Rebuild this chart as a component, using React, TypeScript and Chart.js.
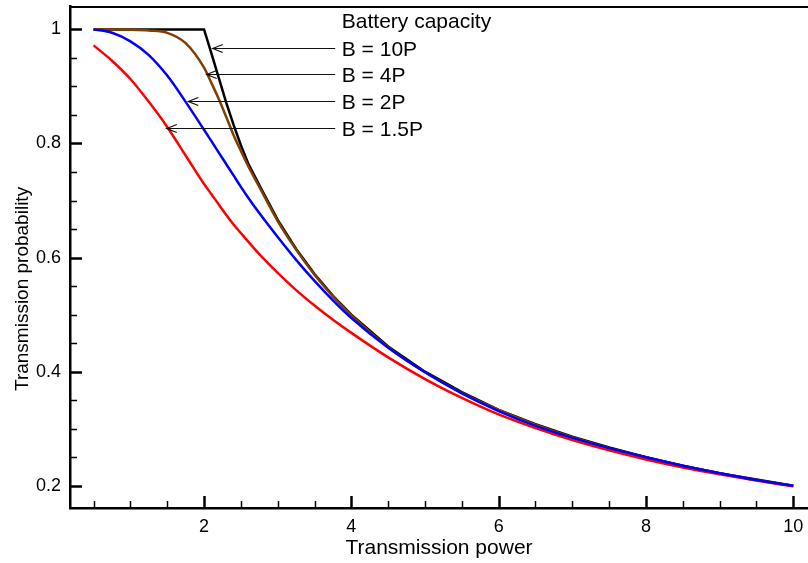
import React, { useEffect, useRef } from 'react';
import { Chart, registerables } from 'chart.js';

Chart.register(...registerables);

// ---- data ----
const powerX = [0.5, 0.75, 1, 1.25, 1.5, 1.75, 2, 2.1, 2.2, 2.3, 2.4, 2.5, 2.6, 2.75, 3, 3.25, 3.5, 3.75, 4, 4.5, 5, 5.5, 6, 6.5, 7, 7.5, 8, 8.5, 9, 9.5, 10];

const probB10 = [1, 1, 1, 1, 1, 1, 1, 0.958, 0.915, 0.872, 0.833, 0.797, 0.765, 0.727, 0.666, 0.615, 0.571, 0.533, 0.5, 0.444, 0.4, 0.364, 0.333, 0.308, 0.286, 0.267, 0.25, 0.235, 0.222, 0.211, 0.2];
const probB4 = [1, 1, 0.9995, 0.998, 0.994, 0.976, 0.933, 0.906, 0.878, 0.847, 0.815, 0.787, 0.76, 0.724, 0.664, 0.614, 0.57, 0.532, 0.499, 0.443, 0.399, 0.363, 0.333, 0.307, 0.285, 0.266, 0.25, 0.235, 0.222, 0.21, 0.2];
const probB2 = [1, 0.994, 0.979, 0.955, 0.919, 0.873, 0.824, 0.804, 0.784, 0.764, 0.744, 0.724, 0.705, 0.678, 0.636, 0.596, 0.559, 0.525, 0.494, 0.442, 0.399, 0.362, 0.331, 0.305, 0.284, 0.266, 0.25, 0.235, 0.222, 0.21, 0.2];
const probB15 = [0.972, 0.945, 0.913, 0.873, 0.829, 0.779, 0.729, 0.711, 0.693, 0.675, 0.658, 0.643, 0.628, 0.606, 0.573, 0.543, 0.516, 0.491, 0.468, 0.425, 0.387, 0.354, 0.325, 0.301, 0.28, 0.262, 0.246, 0.232, 0.22, 0.209, 0.199];

const xTicks = [2, 4, 6, 8, 10];
const yTicks = [0.2, 0.4, 0.6, 0.8, 1];

const xTitle = 'Transmission power';
const yTitle = 'Transmission probability';
const seriesLabels = ['B = 10P', 'B = 4P', 'B = 2P', 'B = 1.5P'];
const headerText = 'Battery capacity';
const arrowTipX = [2.118, 2.036, 1.786, 1.494];
const arrowTipY = [0.967, 0.921, 0.875, 0.827];
const arrowTailX = 3.78;
const labelX = 3.87;
const headerY = 1.0125;
const yTitleCenter = 0.545; // data value at the centre of the y title

const FONT = '"Liberation Sans", Arial, Helvetica, sans-serif';

function pts(ys: number[]) {
  return powerX.map((x, i) => ({ x, y: ys[i] }));
}

const framePlugin = {
  id: 'frameTicks',
  afterDraw(chart: any) {
    const { ctx, chartArea: a, scales } = chart;
    const xs = scales.x;
    const ys = scales.y;
    ctx.save();
    ctx.strokeStyle = '#000';
    ctx.lineWidth = 2;
    ctx.beginPath();
    ctx.moveTo(a.left, a.top + 1);
    ctx.lineTo(a.right, a.top + 1);
    ctx.stroke();
    for (let k = 1; k <= 20; k++) {
      const v = k * 0.5;
      const major = xTicks.some((t) => Math.abs(t - v) < 1e-6);
      const px = Math.round(xs.getPixelForValue(v)) + 0.5;
      ctx.lineWidth = major ? 2.5 : 1.5;
      ctx.beginPath();
      ctx.moveTo(px, a.bottom);
      ctx.lineTo(px, a.bottom - (major ? 12 : 7));
      ctx.stroke();
    }
    for (let k = 4; k <= 20; k++) {
      const v = k * 0.05;
      const major = yTicks.some((t) => Math.abs(t - v) < 1e-6);
      const py = Math.round(ys.getPixelForValue(v)) + 0.5;
      ctx.lineWidth = major ? 2.5 : 1.5;
      ctx.beginPath();
      ctx.moveTo(a.left, py);
      ctx.lineTo(a.left + (major ? 12 : 7), py);
      ctx.stroke();
    }
    // y axis title
    ctx.save();
    ctx.translate(28, ys.getPixelForValue(yTitleCenter));
    ctx.rotate(-Math.PI / 2);
    ctx.font = `19px ${FONT}`;
    ctx.fillStyle = '#000';
    ctx.textAlign = 'center';
    ctx.textBaseline = 'alphabetic';
    ctx.fillText(yTitle, 0, 0);
    ctx.restore();
    ctx.restore();
  },
};

const annotPlugin = {
  id: 'annot',
  afterDatasetsDraw(chart: any) {
    const { ctx, scales } = chart;
    const xs = scales.x;
    const ys = scales.y;
    ctx.save();
    ctx.font = `21px ${FONT}`;
    ctx.fillStyle = '#000';
    ctx.textBaseline = 'middle';
    ctx.textAlign = 'left';
    const tailPx = xs.getPixelForValue(arrowTailX);
    const textPx = xs.getPixelForValue(labelX);
    ctx.fillText(headerText, textPx, ys.getPixelForValue(headerY));
    seriesLabels.forEach((lab, i) => {
      const tx = xs.getPixelForValue(arrowTipX[i]);
      const ty = Math.round(ys.getPixelForValue(arrowTipY[i])) + 0.5;
      ctx.strokeStyle = '#111';
      ctx.lineWidth = 1.2;
      ctx.beginPath();
      ctx.moveTo(tailPx, ty);
      ctx.lineTo(tx, ty);
      ctx.stroke();
      ctx.beginPath();
      ctx.moveTo(tx + 10, ty - 4);
      ctx.lineTo(tx, ty);
      ctx.lineTo(tx + 10, ty + 4);
      ctx.stroke();
      ctx.fillText(lab, textPx, ty + 2);
    });
    ctx.restore();
  },
};

export default function App() {
  const ref = useRef<HTMLCanvasElement | null>(null);

  useEffect(() => {
    if (!ref.current) return;
    const tickFont = { family: FONT, size: 18 };
    const titleFont = { family: FONT, size: 21 };
    const chart = new Chart(ref.current, {
      type: 'line',
      data: {
        datasets: [
          { label: 'B = 2P', data: pts(probB2), borderColor: '#0000ff', borderWidth: 2.5, pointRadius: 0, cubicInterpolationMode: 'monotone', fill: false },
          { label: 'B = 1.5P', data: pts(probB15), borderColor: '#ff0000', borderWidth: 2.5, pointRadius: 0, cubicInterpolationMode: 'monotone', fill: false },
          { label: 'B = 4P', data: pts(probB4), borderColor: '#804000', borderWidth: 2.5, pointRadius: 0, cubicInterpolationMode: 'monotone', fill: false },
          { label: 'B = 10P', data: pts(probB10), borderColor: '#000000', borderWidth: 2.5, pointRadius: 0, tension: 0, fill: false },
        ],
      },
      options: {
        animation: false,
        responsive: false,
        maintainAspectRatio: false,
        devicePixelRatio: 1,
        layout: { padding: { top: 6, left: 0, right: 0, bottom: 0 } },
        plugins: {
          legend: { display: false },
          tooltip: { enabled: false },
        },
        scales: {
          x: {
            type: 'linear',
            min: 0.18,
            max: 10.2,
            afterBuildTicks: (s: any) => {
              s.ticks = xTicks.map((v) => ({ value: v }));
            },
            afterFit: (s: any) => {
              s.height = 55;
              s.paddingLeft = 0;
              s.paddingRight = 0;
            },
            grid: { display: false, drawTicks: false },
            border: { display: true, color: '#000', width: 2.5 },
            ticks: { font: tickFont, color: '#000', padding: 8, maxRotation: 0, autoSkip: false, callback: (v: any) => String(v) },
            title: { display: true, text: xTitle, font: titleFont, color: '#000', padding: { top: 0, bottom: 2 } },
          },
          y: {
            type: 'linear',
            min: 0.161,
            max: 1.041,
            afterBuildTicks: (s: any) => {
              s.ticks = yTicks.map((v) => ({ value: v }));
            },
            afterFit: (s: any) => {
              s.width = 70;
              s.paddingTop = 0;
              s.paddingBottom = 0;
            },
            grid: { display: false, drawTicks: false },
            border: { display: true, color: '#000', width: 2.5 },
            ticks: { font: tickFont, color: '#000', padding: 9, autoSkip: false, callback: (v: any) => String(v) },
            title: { display: false },
          },
        },
      },
      plugins: [annotPlugin, framePlugin],
    } as any);
    return () => chart.destroy();
  }, []);

  return (
    <div style={{ position: 'fixed', left: 0, top: 0, width: 808, height: 563, background: '#fff' }}>
      <canvas ref={ref} width={808} height={563} style={{ display: 'block' }} />
    </div>
  );
}
